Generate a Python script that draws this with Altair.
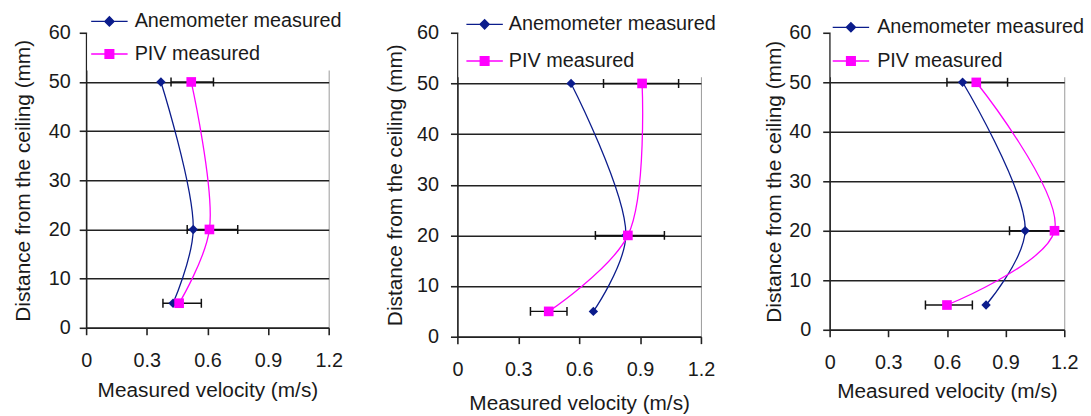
import altair as alt
import pandas as pd

# Measurement heights below the ceiling (mm)
heights = [50, 20, 5]
series_names = ["Anemometer measured", "PIV measured"]

# Case 1
anem_1 = [0.37, 0.53, 0.43]
piv_1 = [0.52, 0.61, 0.46]
err_lo_1 = [0.42, 0.50, 0.38]
err_hi_1 = [0.63, 0.75, 0.57]

# Case 2
anem_2 = [0.56, 0.83, 0.67]
piv_2 = [0.91, 0.84, 0.45]
err_lo_2 = [0.72, 0.68, 0.36]
err_hi_2 = [1.09, 1.02, 0.54]

# Case 3
anem_3 = [0.68, 1.00, 0.80]
piv_3 = [0.75, 1.15, 0.60]
err_lo_3 = [0.60, 0.92, 0.49]
err_hi_3 = [0.91, 1.38, 0.73]

x_ticks = [0, 0.3, 0.6, 0.9, 1.2]
y_ticks = [0, 10, 20, 30, 40, 50, 60]

FONT = "Liberation Sans"
TEXT = "#1a1a1a"
BLUE = "#0b1c8c"
MAGENTA = "#ff00ff"
X_TITLE = "Measured velocity (m/s)"
Y_TITLE = "Distance from the ceiling (mm)"

# legend glyphs: a short line with the marker in its middle
DIAMOND_PATH = "M-1.6,0L1.6,0M0,-0.4L0.4,0L0,0.4L-0.4,0Z"
SQUARE_PATH = "M-1.6,0L1.6,0M-0.38,-0.38L0.38,-0.38L0.38,0.38L-0.38,0.38Z"
CAP_PATH = "M0,-1L0,1"


def panel(anem, piv, lo, hi, w, h, lg, ax):
    prof = pd.DataFrame({
        "series": [series_names[0]] * len(heights) + [series_names[1]] * len(heights),
        "velocity": anem + piv,
        "height": heights + heights,
    })
    err = pd.DataFrame({"height": heights, "lo": lo, "hi": hi})

    xs = alt.Scale(domain=[0, 1.2], nice=False, zero=False)
    ys = alt.Scale(domain=[0, 60], nice=False)
    x_axis = alt.Axis(
        values=x_ticks,
        labelExpr="datum.value == 0 ? '0' : format(datum.value, '.1f')",
        labelFlush=False,
        grid=False, tickSize=7, labelPadding=16, titlePadding=ax["xtp"],
    )
    y_axis = alt.Axis(
        values=y_ticks, grid=True, tickSize=7,
        labelPadding=ax["ylp"], titlePadding=ax["ytp"],
    )
    x_vel = alt.X("velocity:Q", scale=xs, axis=x_axis, title=X_TITLE)
    y = alt.Y("height:Q", scale=ys, axis=y_axis, title=Y_TITLE)

    legend = alt.Legend(
        title=None, orient="none", legendX=lg["x"], legendY=lg["y"],
        fillColor="white", padding=6, symbolSize=529, symbolOpacity=1,
        symbolStrokeWidth=1.4,
        symbolOffset=lg["so"], labelOffset=lg["lo"], rowPadding=lg["rp"],
        labelFont=FONT, labelFontSize=20, labelColor=TEXT, labelLimit=400,
    )
    pal = alt.Scale(domain=series_names, range=[BLUE, MAGENTA])

    bars = alt.Chart(err).mark_rule(color="#111", strokeWidth=1.5, clip=True).encode(
        x=alt.X("lo:Q", scale=xs, axis=x_axis, title=X_TITLE),
        x2="hi:Q",
        y=y,
    )
    caps_lo = alt.Chart(err).mark_point(
        shape=CAP_PATH, size=81, color="#111", strokeWidth=1.5, opacity=1, clip=True
    ).encode(x=alt.X("lo:Q", scale=xs, axis=x_axis, title=X_TITLE), y=y)
    caps_hi = alt.Chart(err).mark_point(
        shape=CAP_PATH, size=81, color="#111", strokeWidth=1.5, opacity=1, clip=True
    ).encode(x=alt.X("hi:Q", scale=xs, axis=x_axis, title=X_TITLE), y=y)

    def series_layers(name, colour, shape, size):
        base = alt.Chart(prof).transform_filter(alt.datum.series == name)
        line = base.mark_line(
            interpolate="catmull-rom", strokeWidth=1.3, color=colour
        ).encode(x=x_vel, y=y, order=alt.Order("height:Q", sort="ascending"))
        pts = base.mark_point(
            shape=shape, size=size, filled=True, opacity=1, color=colour
        ).encode(x=x_vel, y=y)
        return [line, pts]

    anem_layers = series_layers(series_names[0], BLUE, "diamond", 90)
    piv_layers = series_layers(series_names[1], MAGENTA, "square", 95)

    # transparent layer that carries the series key
    key = alt.Chart(prof).mark_point(filled=True, opacity=0).encode(
        x=x_vel,
        y=y,
        fill=alt.Fill("series:N", scale=pal, legend=legend),
        stroke=alt.Stroke("series:N", scale=pal, legend=legend),
        shape=alt.Shape(
            "series:N",
            scale=alt.Scale(domain=series_names, range=[DIAMOND_PATH, SQUARE_PATH]),
            legend=legend,
        ),
    )
    return alt.layer(
        bars, caps_lo, caps_hi, anem_layers[0], piv_layers[0],
        anem_layers[1], piv_layers[1], key
    ).properties(width=w, height=h)


p1 = panel(anem_1, piv_1, err_lo_1, err_hi_1, 245, 298,
           {"x": 1, "y": -30, "so": 4, "lo": 13, "rp": 10},
           {"xtp": 9, "ylp": 9, "ytp": 15})
p2 = panel(anem_2, piv_2, err_lo_2, err_hi_2, 246, 307,
           {"x": 1, "y": -27, "so": 8, "lo": 12, "rp": 14},
           {"xtp": 14, "ylp": 12, "ytp": 11})
p3 = panel(anem_3, piv_3, err_lo_3, err_hi_3, 237, 300,
           {"x": 1, "y": -24, "so": 2, "lo": 14, "rp": 11},
           {"xtp": 8, "ylp": 12, "ytp": 4})

chart = (
    alt.hconcat(p1, p2, p3, spacing=130, bounds="flush")
    .resolve_scale(fill="independent", stroke="independent", shape="independent")
    .resolve_legend(fill="independent", stroke="independent", shape="independent")
    .properties(padding={"left": 12, "top": 0, "right": 0, "bottom": 0})
    .configure(font=FONT)
    .configure_view(stroke="#999999", strokeWidth=1)
    .configure_axis(
        labelFont=FONT, labelFontSize=20, labelColor=TEXT,
        titleFont=FONT, titleFontSize=21, titleColor=TEXT, titleFontWeight="normal",
        domainColor="#222", domainWidth=1.6, tickColor="#222", tickWidth=1.6,
        gridColor="#222", gridWidth=1.6,
    )
)

chart.save("out.html", embed_options={"renderer": "svg", "actions": False})
